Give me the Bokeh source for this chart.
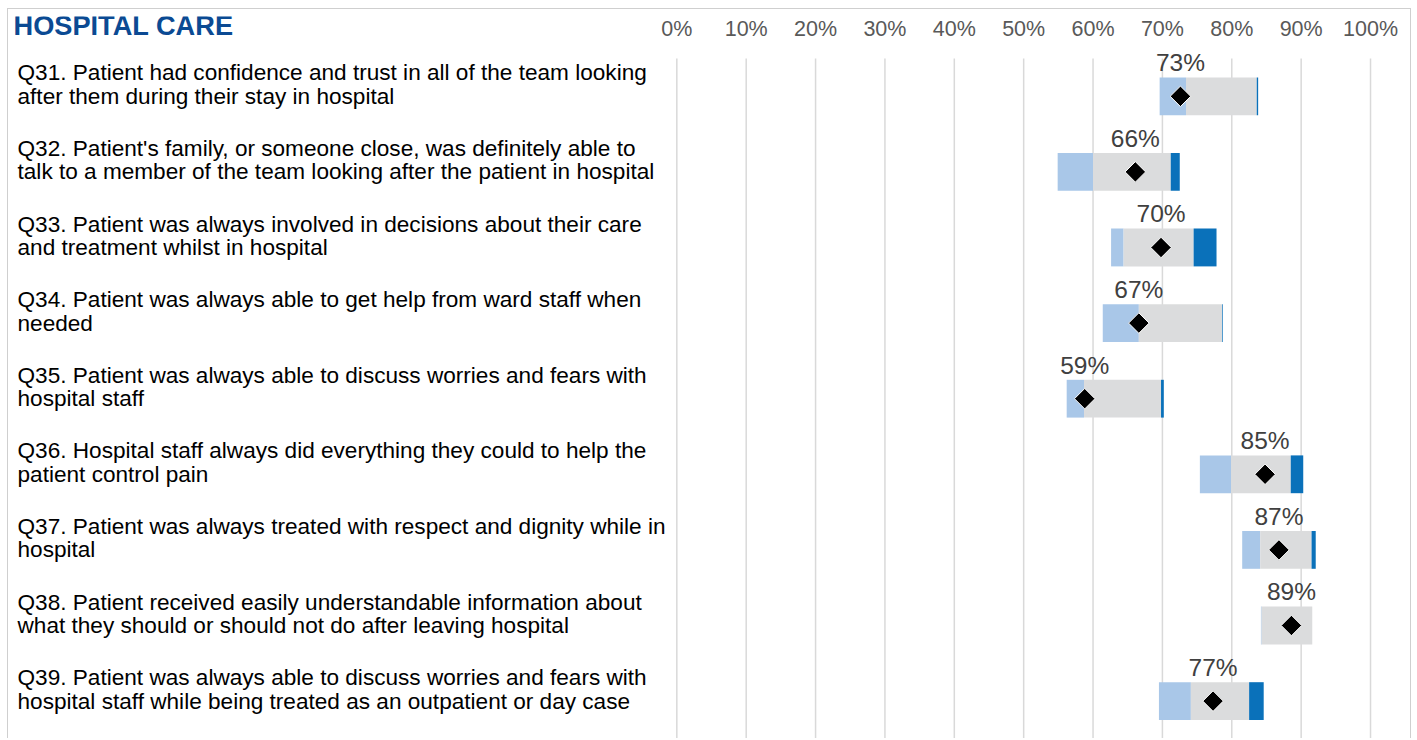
import math
from bokeh.plotting import figure
from bokeh.models import Range1d, FixedTicker, ColumnDataSource
from bokeh.core.properties import value
from bokeh.embed import file_html
from bokeh.resources import INLINE

title_text = "HOSPITAL CARE"

questions = [
    "Q31. Patient had confidence and trust in all of the team looking\nafter them during their stay in hospital",
    "Q32. Patient's family, or someone close, was definitely able to\ntalk to a member of the team looking after the patient in hospital",
    "Q33. Patient was always involved in decisions about their care\nand treatment whilst in hospital",
    "Q34. Patient was always able to get help from ward staff when\nneeded",
    "Q35. Patient was always able to discuss worries and fears with\nhospital staff",
    "Q36. Hospital staff always did everything they could to help the\npatient control pain",
    "Q37. Patient was always treated with respect and dignity while in\nhospital",
    "Q38. Patient received easily understandable information about\nwhat they should or should not do after leaving hospital",
    "Q39. Patient was always able to discuss worries and fears with\nhospital staff while being treated as an outpatient or day case",
]

# range segments (percent)
low_start = [69.6, 54.9, 62.6, 61.4, 56.2, 75.4, 81.5, 84.2, 69.5]
low_end = [73.4, 60.0, 64.4, 66.6, 58.7, 79.9, 84.1, 84.3, 74.1]
high_start = [83.6, 71.2, 74.5, 78.6, 69.8, 88.5, 91.5, 91.6, 82.5]
high_end = [83.8, 72.5, 77.8, 78.7, 70.2, 90.3, 92.1, 91.6, 84.6]
scores = [72.6, 66.1, 69.8, 66.6, 58.8, 84.8, 86.8, 88.6, 77.3]

tick_values = [0, 10, 20, 30, 40, 50, 60, 70, 80, 90, 100]
tick_labels = ["0%", "10%", "20%", "30%", "40%", "50%", "60%", "70%", "80%", "90%", "100%"]

rows = list(range(len(questions)))
score_labels = ["%d%%" % round(s) for s in scores]
n = len(rows)

FONT = "Liberation Sans"

src = ColumnDataSource(dict(
    y=rows, lo0=low_start, lo1=low_end, hi0=high_start, hi1=high_end,
    score=scores, slabel=score_labels, q=questions,
    ly=[r - 0.445 for r in rows], qy=[r - 0.155 for r in rows],
    qx=[-95.04] * n,
))

p = figure(width=1404, height=730,
           x_range=Range1d(-96.34, 106.05), y_range=Range1d(8.508, -1.0556),
           x_axis_location="above", y_axis_location=None,
           output_backend="svg", toolbar_location=None,
           min_border=0, min_border_top=7)
p.styles = {"border": "1px solid #cfcfcf", "border-bottom": "none",
            "margin-left": "7px", "margin-top": "8px"}
p.outline_line_color = None
p.background_fill_color = "white"
p.border_fill_color = "white"

ax = p.xaxis[0]
ax.ticker = FixedTicker(ticks=tick_values)
ax.major_label_overrides = {t: l for t, l in zip(tick_values, tick_labels)}
ax.axis_line_color = None
ax.major_tick_line_color = None
ax.minor_tick_line_color = None
ax.major_tick_out = 0
ax.major_tick_in = 0
ax.major_label_standoff = -24
ax.major_label_text_font = FONT
ax.major_label_text_font_size = "21.5px"
ax.major_label_text_color = "#595959"

p.xgrid.grid_line_color = None
p.ygrid.grid_line_color = None

# vertical gridlines over the question rows only
p.segment(x0=tick_values, x1=tick_values,
          y0=[rows[0] - 0.5] * len(tick_values), y1=[rows[-1] + 0.5] * len(tick_values),
          line_color="#d9d9d9", line_width=1.5)

p.hbar(y="y", left="lo0", right="lo1", height=0.5, source=src,
       fill_color="#a9c7e8", line_color=None)
p.hbar(y="y", left="lo1", right="hi0", height=0.5, source=src,
       fill_color="#dbdcdd", line_color=None)
p.hbar(y="y", left="hi0", right="hi1", height=0.5, source=src,
       fill_color="#0a71ba", line_color=None)

p.scatter(x="score", y="y", source=src, marker="square", angle=math.pi / 4,
          size=14.5, fill_color="black", line_color="white", line_width=1)

p.text(x="score", y="ly", text="slabel", source=src,
       text_align="center", text_baseline="middle",
       text_font=value(FONT), text_font_size="24.5px", text_color="#404040")

p.text(x="qx", y="qy", text="q", source=src,
       text_align="left", text_baseline="middle",
       text_font=value(FONT), text_font_size="22.6px", text_color="black",
       text_line_height=0.93)

p.text(x=[-95.62], y=[-0.93], text=[title_text],
       text_align="left", text_baseline="middle",
       text_font=value(FONT), text_font_size="27.2px", text_font_style="bold",
       text_color="#0b4a93")

open("out.html", "w").write(file_html(p, INLINE))
